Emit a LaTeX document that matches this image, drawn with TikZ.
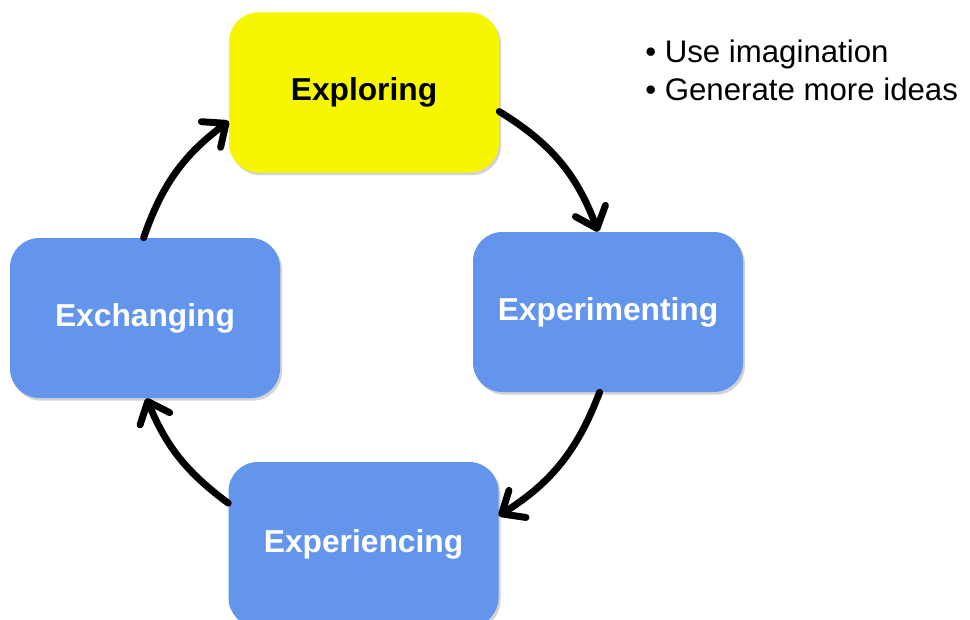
\documentclass[tikz,border=0pt]{standalone}
\usepackage{fontspec}
\setmainfont{Liberation Sans}
\usetikzlibrary{arrows.meta,shadows,calc}
\definecolor{boxblue}{RGB}{100,149,237}
\definecolor{boxyellow}{RGB}{246,246,0}
\tikzset{
  stagebox/.style={rounded corners=22pt, minimum width=202.5pt, minimum height=120pt,
    inner sep=0pt, font=\fontsize{23.8}{28}\selectfont\bfseries,
    drop shadow={opacity=0.35, shadow xshift=1.5pt, shadow yshift=-2pt}},
  bluebox/.style={stagebox, fill=boxblue, text=white},
  yellowbox/.style={stagebox, fill=boxyellow, text=black},
  cyclearrow/.style={line width=5.2pt, line cap=round,
    -{Straight Barb[length=14pt, width=24pt, line cap=round, line join=round]}},
  bullettext/.style={anchor=base west, inner sep=0pt, font=\fontsize{23.4}{28}\selectfont}
}
\begin{document}
\begin{tikzpicture}[x=0.75pt, y=0.75pt]
\useasboundingbox (0,0) rectangle (970,619);
\fill[white] (0,0) rectangle (970,619);
\node[yellowbox] (expl) at (364,526.5) {Exploring};
\node[bluebox] (expm) at (608,307) {Experimenting};
\node[bluebox] (exch) at (145,301) {Exchanging};
\node[bluebox, minimum height=123.75pt] (expc) at (363.5,74.5) {Experiencing};
\draw[cyclearrow] (exch.91.4) to[bend left=17] (expl.192.5);
\draw[cyclearrow] (expl.-8.3) to[bend left=19] (expm.97);
\draw[cyclearrow] (expm.264.4) to[bend left=18.5] (expc.12.3);
\draw[cyclearrow] (expc.163) to[bend left=15.5] (exch.271.4);
\node[bullettext] (b1) at (645,556) {\textbullet\ Use imagination};
\node[bullettext] (b2) at (645,518) {\textbullet\ Generate more ideas};
\end{tikzpicture}
\end{document}
